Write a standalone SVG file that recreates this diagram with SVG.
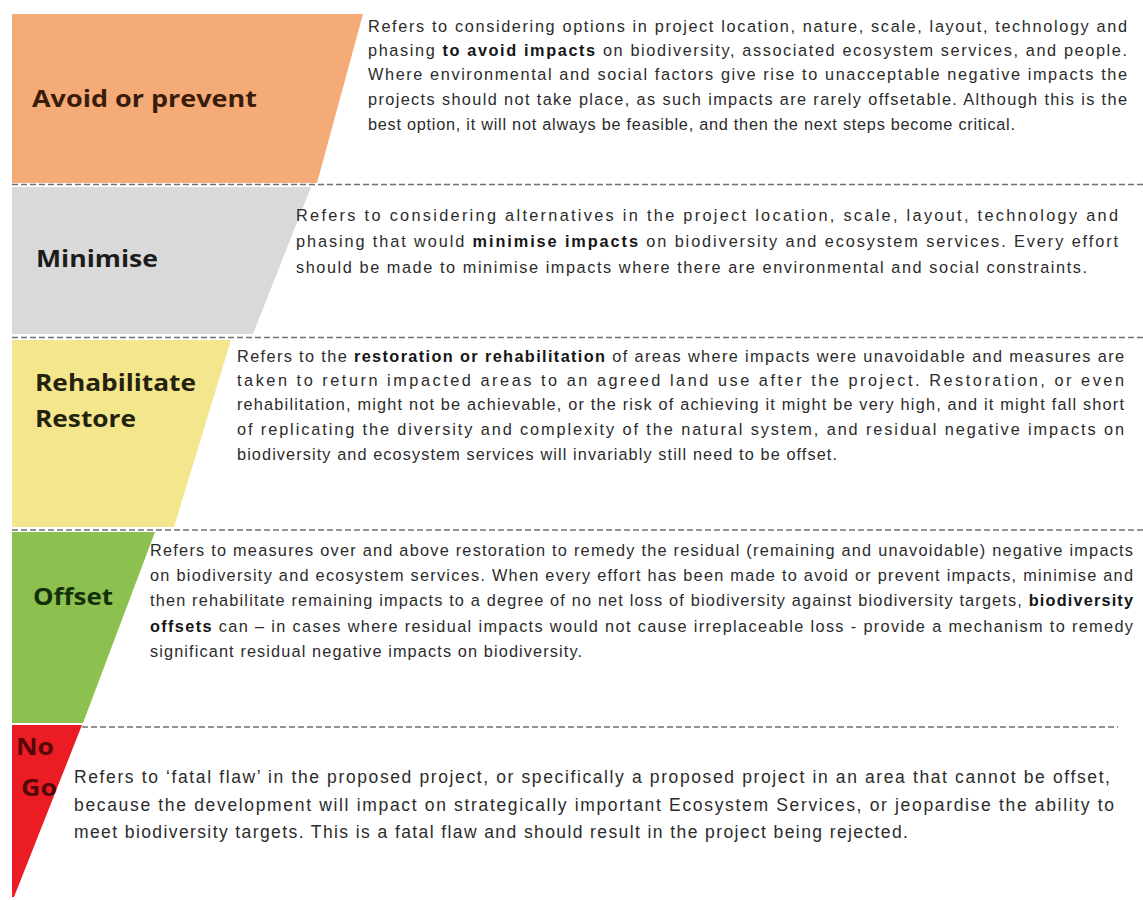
<svg xmlns="http://www.w3.org/2000/svg" width="1143" height="900" viewBox="0 0 1143 900">
<style>
.lbl{font-family:"Open Sans","Liberation Sans",sans-serif;font-weight:700;font-size:24px}
.desc{font-family:"Liberation Sans",Arial,sans-serif;font-size:16.3px;fill:#2b2b2b}
.nogo{font-family:"Liberation Sans",Arial,sans-serif;font-size:17.5px;fill:#2b2b2b}
.b{font-weight:700;fill:#151515}
.sep{stroke:#707070;stroke-width:1.6;stroke-dasharray:6 3;fill:none}
</style>
<rect x="0" y="0" width="1143" height="900" fill="#ffffff"/>

<g id="avoid">
<polygon points="12,14 363,14 317,183 12,183" fill="#F5AB78"/>
<text class="lbl" x="32" y="107" fill="#3a1c0a" textLength="225" lengthAdjust="spacingAndGlyphs">Avoid or prevent</text>
<text class="desc" x="368" y="32" textLength="759" lengthAdjust="spacing">Refers to considering options in project location, nature, scale, layout, technology and</text>
<text class="desc" x="368" y="56" textLength="759" lengthAdjust="spacing">phasing <tspan class="b">to avoid impacts</tspan> on biodiversity, associated ecosystem services, and people.</text>
<text class="desc" x="368" y="80" textLength="759" lengthAdjust="spacing">Where environmental and social factors give rise to unacceptable negative impacts the</text>
<text class="desc" x="368" y="105" textLength="759" lengthAdjust="spacing">projects should not take place, as such impacts are rarely offsetable.  Although this is the</text>
<text class="desc" x="368" y="130" textLength="647" lengthAdjust="spacing">best option, it will not always be feasible, and then the next steps become critical.</text>
</g>

<g id="minimise">
<polygon points="12,187 311,187 253,334 12,334" fill="#D9D9D9"/>
<text class="lbl" x="36" y="267" fill="#1c1c1c" textLength="122" lengthAdjust="spacingAndGlyphs">Minimise</text>
<text class="desc" x="296" y="221" textLength="822" lengthAdjust="spacing">Refers to considering alternatives in the project location, scale, layout, technology and</text>
<text class="desc" x="296" y="247" textLength="822" lengthAdjust="spacing">phasing that would <tspan class="b">minimise impacts</tspan> on biodiversity and ecosystem services. Every effort</text>
<text class="desc" x="296" y="273" textLength="791" lengthAdjust="spacing">should be made to minimise impacts where there are environmental and social constraints.</text>
</g>

<g id="rehabilitate">
<polygon points="12,340 231,340 174,527 12,527" fill="#F4E68C"/>
<text class="lbl" x="35" y="391" fill="#24220e" textLength="161" lengthAdjust="spacingAndGlyphs">Rehabilitate</text>
<text class="lbl" x="35" y="427" fill="#24220e" textLength="101" lengthAdjust="spacingAndGlyphs">Restore</text>
<text class="desc" x="237" y="362" textLength="887" lengthAdjust="spacing">Refers to the <tspan class="b">restoration or rehabilitation</tspan> of areas where impacts were unavoidable and measures are</text>
<text class="desc" x="237" y="386" textLength="887" lengthAdjust="spacing">taken to return impacted areas to an agreed land use after the project.   Restoration, or even</text>
<text class="desc" x="237" y="410" textLength="887" lengthAdjust="spacing">rehabilitation, might not be achievable, or the risk of achieving it might be very high, and it might fall short</text>
<text class="desc" x="237" y="435" textLength="887" lengthAdjust="spacing">of replicating the diversity and complexity of the natural system, and residual negative impacts on</text>
<text class="desc" x="237" y="460" textLength="600" lengthAdjust="spacing">biodiversity and ecosystem services will invariably still need to be offset.</text>
</g>

<g id="offset">
<polygon points="12,532 155,532 83,723 12,723" fill="#8CC04F"/>
<text class="lbl" x="33" y="605" fill="#14300a" textLength="80" lengthAdjust="spacingAndGlyphs">Offset</text>
<text class="desc" x="150" y="556" textLength="983" lengthAdjust="spacing">Refers to measures over and above restoration to remedy the residual (remaining and unavoidable) negative impacts</text>
<text class="desc" x="150" y="581" textLength="983" lengthAdjust="spacing">on biodiversity and ecosystem services. When every effort has been made to avoid or prevent impacts, minimise and</text>
<text class="desc" x="150" y="606" textLength="983" lengthAdjust="spacing">then rehabilitate remaining impacts to a degree of no net loss of biodiversity against biodiversity targets, <tspan class="b">biodiversity</tspan></text>
<text class="desc" x="150" y="632" textLength="983" lengthAdjust="spacing"><tspan class="b">offsets</tspan> can – in cases where residual impacts would not cause irreplaceable loss - provide a mechanism to remedy</text>
<text class="desc" x="150" y="657" textLength="432" lengthAdjust="spacing">significant residual negative impacts on biodiversity.</text>
</g>

<g id="nogo">
<polygon points="12,725 82,725 14,897 12,897" fill="#EC1C24"/>
<text class="lbl" x="16" y="755" fill="#560808" font-size="22" textLength="38" lengthAdjust="spacingAndGlyphs">No</text>
<text class="lbl" x="21" y="796" fill="#560808" font-size="22" textLength="36" lengthAdjust="spacingAndGlyphs">Go</text>
<text class="nogo" x="74" y="783" textLength="1036" lengthAdjust="spacing">Refers to ‘fatal flaw’ in the proposed project, or specifically a proposed project in an area that cannot be offset,</text>
<text class="nogo" x="74" y="811" textLength="1040" lengthAdjust="spacing">because the development will impact on strategically important Ecosystem Services, or jeopardise the ability to</text>
<text class="nogo" x="74" y="838" textLength="834" lengthAdjust="spacing">meet biodiversity targets.  This is a fatal flaw and should result in the project being rejected.</text>
</g>

<g id="separators">
<line class="sep" x1="12" y1="184.5" x2="1143" y2="184.5"/>
<line class="sep" x1="12" y1="337.5" x2="1143" y2="337.5"/>
<line class="sep" x1="12" y1="530" x2="1143" y2="530"/>
<line class="sep" x1="82" y1="727" x2="1118" y2="727"/>
</g>
</svg>
